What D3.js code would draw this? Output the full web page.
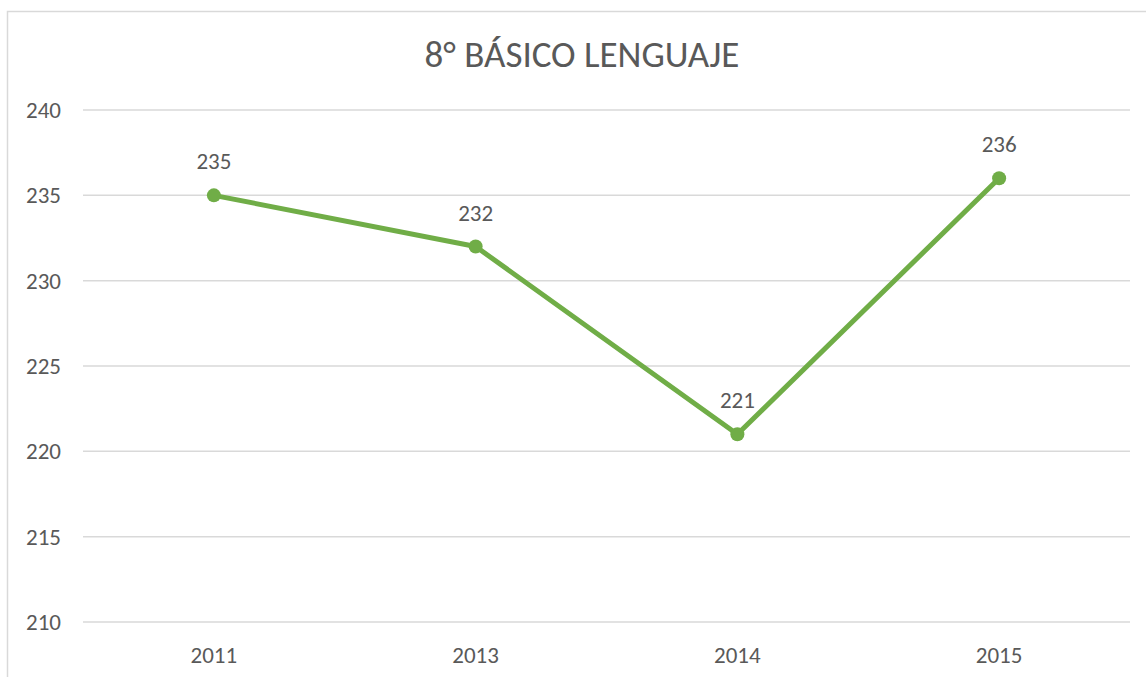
<!DOCTYPE html>
<html>
<head>
<meta charset="utf-8">
<script src="https://cdn.jsdelivr.net/npm/d3@7"></script>
<style>
  body { margin: 0; background: #fff; }
  text { font-family: Calibri, Carlito, "Open Sans", "Noto Sans", sans-serif; fill: #595959; }
</style>
</head>
<body>
<script>
// data
var years = ['2011', '2013', '2014', '2015'];
var scores = [235, 232, 221, 236];
var yTicks = [210, 215, 220, 225, 230, 235, 240];

var svg = d3.select('body').append('svg')
    .attr('width', 1146)
    .attr('height', 677);

// chart border
svg.append('rect')
    .attr('x', 7.5)
    .attr('y', 11.5)
    .attr('width', 1160)
    .attr('height', 700)
    .attr('fill', 'none')
    .attr('stroke', '#d9d9d9')
    .attr('stroke-width', 1.5);

var plotLeft = 83, plotRight = 1130, plotTop = 110, plotBottom = 622;

var x = d3.scaleBand().domain(years).range([plotLeft, plotRight]);
var y = d3.scaleLinear().domain([210, 240]).range([plotBottom, plotTop]);

// gridlines
svg.append('g').selectAll('line')
    .data(yTicks)
    .enter().append('line')
    .attr('x1', plotLeft)
    .attr('x2', plotRight)
    .attr('y1', function(d) { return y(d); })
    .attr('y2', function(d) { return y(d); })
    .attr('stroke', '#d9d9d9')
    .attr('stroke-width', 1.5);

// y labels
svg.append('g').selectAll('text')
    .data(yTicks)
    .enter().append('text')
    .attr('x', 61)
    .attr('y', function(d) { return y(d); })
    .attr('dy', '0.35em')
    .attr('text-anchor', 'end')
    .style('font-size', '23px')
    .text(function(d) { return d; });

// x labels
svg.append('g').selectAll('text')
    .data(years)
    .enter().append('text')
    .attr('x', function(d) { return x(d) + x.bandwidth() / 2; })
    .attr('y', 663)
    .attr('text-anchor', 'middle')
    .style('font-size', '23px')
    .text(function(d) { return d; });

// title
svg.append('text')
    .attr('x', 582)
    .attr('y', 67)
    .attr('text-anchor', 'middle')
    .style('font-size', '37px')
    .text('8° BÁSICO LENGUAJE');

var line = d3.line()
    .x(function(d, i) { return x(years[i]) + x.bandwidth() / 2; })
    .y(function(d) { return y(d); });

svg.append('path')
    .datum(scores)
    .attr('d', line)
    .attr('fill', 'none')
    .attr('stroke', '#70ad47')
    .attr('stroke-width', 5)
    .attr('stroke-linejoin', 'round')
    .attr('stroke-linecap', 'round');

svg.append('g').selectAll('circle')
    .data(scores)
    .enter().append('circle')
    .attr('cx', function(d, i) { return x(years[i]) + x.bandwidth() / 2; })
    .attr('cy', function(d) { return y(d); })
    .attr('r', 7)
    .attr('fill', '#70ad47');

// data labels
svg.append('g').selectAll('text')
    .data(scores)
    .enter().append('text')
    .attr('x', function(d, i) { return x(years[i]) + x.bandwidth() / 2; })
    .attr('y', function(d) { return y(d) - 26; })
    .attr('text-anchor', 'middle')
    .style('font-size', '23px')
    .text(function(d) { return d; });
</script>
</body>
</html>
